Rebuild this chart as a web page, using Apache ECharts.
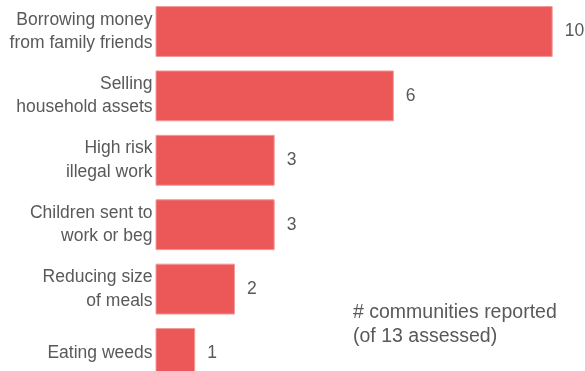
<!DOCTYPE html>
<html>
<head>
<meta charset="utf-8">
<script src="https://cdn.jsdelivr.net/npm/echarts@6/dist/echarts.min.js"></script>
<style>html,body{margin:0;padding:0;background:#fff}#c{width:585px;height:371px}</style>
</head>
<body>
<div id="c"></div>
<script>
const categories = ["Borrowing money\nfrom family friends", "Selling\nhousehold assets", "High risk\nillegal work", "Children sent to\nwork or beg", "Reducing size\nof meals", "Eating weeds"];
const values = [10, 6, 3, 3, 2, 1];
const noteLines = ["# communities reported", "(of 13 assessed)"];

const chart = echarts.init(document.getElementById('c'), null, {renderer: 'canvas'});
const font = "'Liberation Sans', Arial, sans-serif";
chart.setOption({
  animation: false,
  grid: {left: 155.5, right: 32.3, top: -0.7, height: 386.4, containLabel: false, outerBoundsMode: 'none'},
  xAxis: {type: 'value', min: 0, max: 10, show: false},
  yAxis: {
    type: 'category', data: categories, inverse: true,
    axisLine: {show: false}, axisTick: {show: false}, splitLine: {show: false},
    axisLabel: {color: '#595959', fontSize: 17.5, fontFamily: font, lineHeight: 23.5, margin: 3, align: 'right'}
  },
  series: [{
    type: 'bar', data: values, barCategoryGap: '21%',
    itemStyle: {color: '#ec5858', borderColor: '#f29a9a', borderWidth: 1},
    label: {show: true, position: 'right', distance: 12, color: '#595959', fontSize: 17.5, fontFamily: font}
  }],
  graphic: [{
    type: 'text', left: 353, top: 301,
    style: {text: noteLines.join('\n'), fill: '#595959', fontSize: 19.5, fontFamily: font, lineHeight: 23.5}
  }]
});
</script>
</body>
</html>
